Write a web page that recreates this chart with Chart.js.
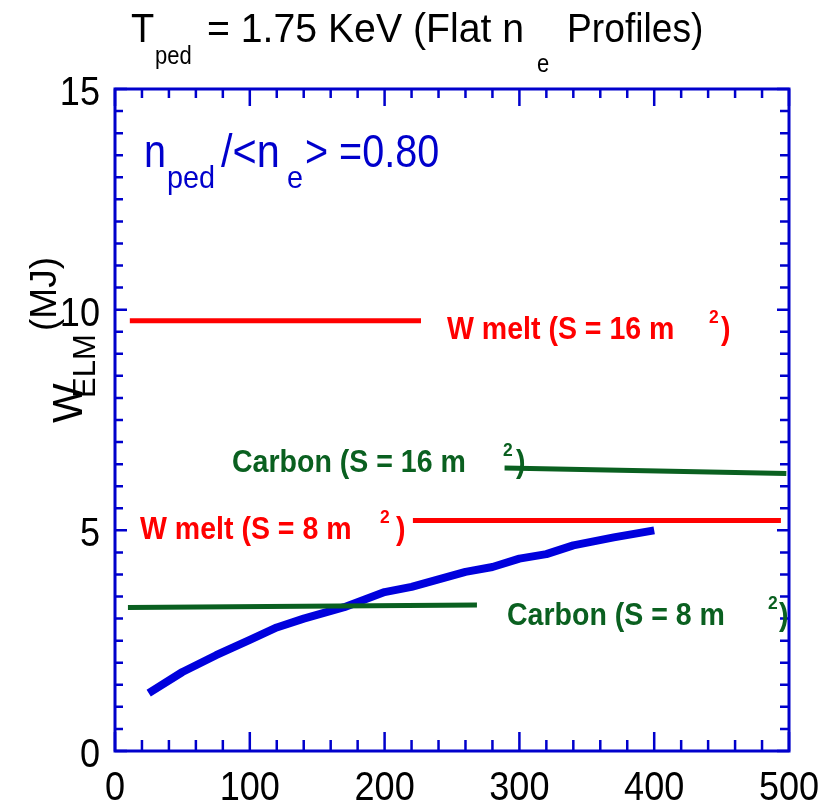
<!DOCTYPE html>
<html>
<head>
<meta charset="utf-8">
<script src="https://cdn.jsdelivr.net/npm/chart.js@4/dist/chart.umd.min.js"></script>
<style>
  body { margin: 0; background: #fff; }
  #wrap { width: 834px; height: 808px; }
</style>
</head>
<body>
<div id="wrap"><canvas id="elmChart" width="834" height="808"></canvas></div>
<script>
// ELM energy vs. x (0..500), Tped = 1.75 KeV, flat ne profiles

// --- data ---
const bluePathX = [25, 50, 75, 100, 120, 140, 170, 200, 220, 260, 280, 300, 320, 340, 370, 400];
const bluePathY = [1.31, 1.79, 2.17, 2.52, 2.80, 3.00, 3.26, 3.60, 3.72, 4.06, 4.17, 4.36, 4.46, 4.66, 4.84, 5.00];

const wMelt16X = [11, 227];
const wMelt16Y = [9.75, 9.75];
const wMelt8X = [221, 494];
const wMelt8Y = [5.22, 5.22];
const carbon16X = [289, 498];
const carbon16Y = [6.41, 6.29];
const carbon8X = [9.6, 268.5];
const carbon8Y = [3.25, 3.31];

const xTickStep = 100;
const yTickStep = 5;

const FONT = "'Liberation Sans', Arial, sans-serif";
const AXIS_BLUE = '#0000cc';
const RED = '#ff0000';
const GREEN = '#0a6020';
const BLUE = '#0000dd';

function pts(xs, ys) {
    return xs.map((x, i) => ({ x: x, y: ys[i] }));
}

function drawText(ctx, t, x, y, size, o) {
    o = o || {};
    ctx.save();
    ctx.font = (o.bold ? 'bold ' : '') + size + 'px ' + FONT;
    ctx.fillStyle = o.color || '#000';
    ctx.textAlign = o.align || 'left';
    ctx.textBaseline = 'alphabetic';
    ctx.translate(x, y);
    if (o.rot) ctx.rotate(-Math.PI / 2);
    ctx.scale(o.sx || 1, 1);
    ctx.fillText(t, 0, 0);
    ctx.restore();
}

// frame + inward ticks on all four sides, tick labels from the scales
const framePlugin = {
    id: 'frame',
    afterDraw(chart) {
        const ctx = chart.ctx;
        const a = chart.chartArea;
        const xs = chart.scales.x, ys = chart.scales.y;
        ctx.save();
        ctx.strokeStyle = AXIS_BLUE;
        ctx.lineWidth = 2.5;
        ctx.beginPath();
        for (let v = 0; v <= 500; v += 20) {
            const px = xs.getPixelForValue(v);
            const major = v % 100 === 0;
            ctx.moveTo(px, a.bottom);
            ctx.lineTo(px, a.bottom - (major ? 19 : 11));
            ctx.moveTo(px, a.top);
            ctx.lineTo(px, a.top + (major ? 17 : 9));
        }
        for (let v = 0; v <= 15; v += 0.5) {
            const py = ys.getPixelForValue(v);
            const major = v % 5 === 0;
            ctx.moveTo(a.left, py);
            ctx.lineTo(a.left + (major ? 12 : 8), py);
            ctx.moveTo(a.right, py);
            ctx.lineTo(a.right - (major ? 12 : 9), py);
        }
        ctx.stroke();
        ctx.lineWidth = 3;
        ctx.strokeRect(a.left, a.top, a.right - a.left, a.bottom - a.top);
        ctx.restore();

        xs.ticks.forEach(t => {
            drawText(ctx, String(t.value), xs.getPixelForValue(t.value), 800, 41, { align: 'center', sx: 0.88 });
        });
        ys.ticks.forEach(t => {
            drawText(ctx, String(t.value), 100, ys.getPixelForValue(t.value) + 16, 41, { align: 'right', sx: 0.88 });
        });
    }
};

// title, axis title and in-plot labels (with sub/superscripts)
const labelPlugin = {
    id: 'labels',
    afterDraw(chart) {
        const ctx = chart.ctx;
        // title
        drawText(ctx, 'T', 131, 42, 40, { sx: 0.95 });
        drawText(ctx, 'ped', 155, 64, 25, { sx: 0.88 });
        drawText(ctx, '= 1.75 KeV (Flat n', 207, 42, 40, { sx: 0.98 });
        drawText(ctx, 'e', 537, 72, 25, { sx: 0.88 });
        drawText(ctx, 'Profiles)', 567, 42, 40, { sx: 0.93 });

        // y axis title, rotated
        drawText(ctx, 'W', 82, 423, 42, { rot: true });
        drawText(ctx, 'ELM', 95, 398, 31, { rot: true });
        drawText(ctx, '(MJ)', 56, 331, 37, { rot: true });

        // density ratio
        drawText(ctx, 'n', 144, 167, 46, { color: AXIS_BLUE, sx: 0.86 });
        drawText(ctx, 'ped', 167, 188, 32, { color: AXIS_BLUE, sx: 0.9 });
        drawText(ctx, '/<n', 221, 167, 46, { color: AXIS_BLUE, sx: 0.9 });
        drawText(ctx, 'e', 287, 188, 32, { color: AXIS_BLUE, sx: 0.9 });
        drawText(ctx, '> =0.80', 305, 167, 46, { color: AXIS_BLUE, sx: 0.86 });

        // limit labels
        const lab = (t, x, y, s, c) => drawText(ctx, t, x, y, s, { color: c, bold: true, sx: 0.92 });
        lab('W melt (S = 16 m', 447, 339, 31, RED);
        lab('2', 709, 323, 19, RED);
        lab(')', 721, 339, 31, RED);

        lab('Carbon (S = 16 m', 232, 472, 31, GREEN);
        lab('2', 503, 456, 19, GREEN);
        lab(')', 516, 472, 31, GREEN);

        lab('W melt (S = 8 m', 140, 539, 31, RED);
        lab('2', 380, 523, 19, RED);
        lab(')', 396, 539, 31, RED);

        lab('Carbon (S = 8 m', 507, 625, 31, GREEN);
        lab('2', 768, 609, 19, GREEN);
        lab(')', 779, 625, 31, GREEN);
    }
};

function lineSet(label, xs, ys, color, width) {
    return {
        label: label,
        data: pts(xs, ys),
        borderColor: color,
        backgroundColor: color,
        borderWidth: width,
        pointRadius: 0,
        fill: false,
        tension: 0,
        borderCapStyle: 'butt',
        borderJoinStyle: 'round'
    };
}

new Chart(document.getElementById('elmChart'), {
    type: 'line',
    data: {
        datasets: [
            lineSet('W melt (S = 16 m2)', wMelt16X, wMelt16Y, RED, 5),
            lineSet('W melt (S = 8 m2)', wMelt8X, wMelt8Y, RED, 5),
            lineSet('Carbon (S = 16 m2)', carbon16X, carbon16Y, GREEN, 5),
            lineSet('Carbon (S = 8 m2)', carbon8X, carbon8Y, GREEN, 5),
            lineSet('W_ELM', bluePathX, bluePathY, BLUE, 8)
        ]
    },
    options: {
        responsive: false,
        animation: false,
        layout: { padding: { left: 0, right: 45, top: 89, bottom: 0 } },
        plugins: {
            legend: { display: false },
            title: { display: false },
            tooltip: { enabled: false }
        },
        scales: {
            x: {
                type: 'linear',
                min: 0,
                max: 500,
                grid: { display: false, drawTicks: false },
                border: { display: false },
                ticks: { stepSize: xTickStep, display: false },
                afterFit(scale) { scale.height = 57; }
            },
            y: {
                type: 'linear',
                min: 0,
                max: 15,
                grid: { display: false, drawTicks: false },
                border: { display: false },
                ticks: { stepSize: yTickStep, display: false },
                afterFit(scale) { scale.width = 115; }
            }
        }
    },
    plugins: [framePlugin, labelPlugin]
});
</script>
</body>
</html>
